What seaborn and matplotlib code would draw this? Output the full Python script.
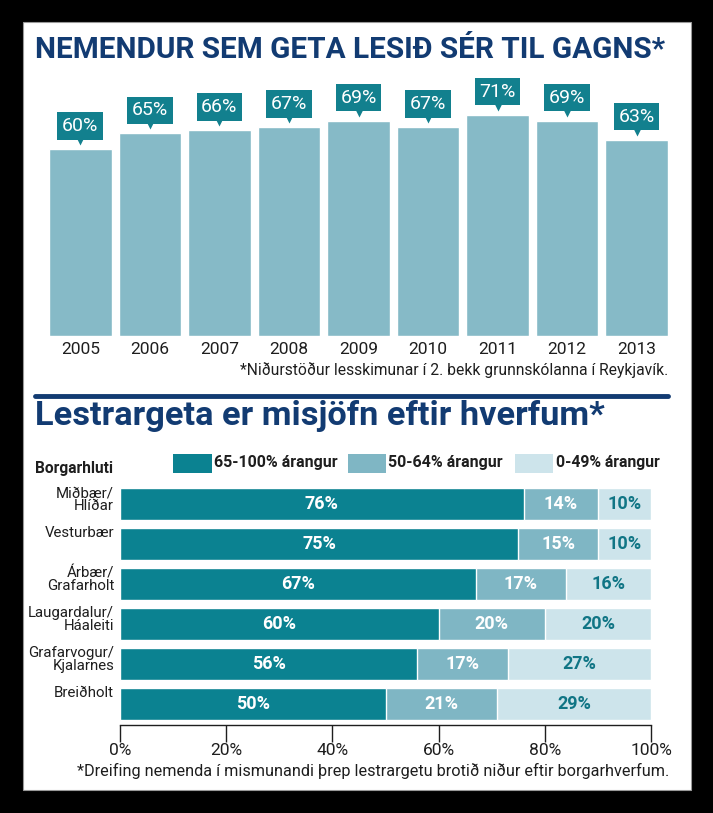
import numpy as np
import pandas as pd
import matplotlib
matplotlib.use('Agg')
import matplotlib.pyplot as plt
import seaborn as sns
from matplotlib.patches import Rectangle
from matplotlib.lines import Line2D

# top chart: share of pupils that read well, per year
years = ['2005', '2006', '2007', '2008', '2009', '2010', '2011', '2012', '2013']
share = [60, 65, 66, 67, 69, 67, 71, 69, 63]

# bottom chart: distribution per district
districts = ['Miðbær/\nHlíðar', 'Vesturbær', 'Árbær/\nGrafarholt', 'Laugardalur/\nHáaleiti',
             'Grafarvogur/\nKjalarnes', 'Breiðholt']
high = [76, 75, 67, 60, 56, 50]
mid = [14, 15, 17, 20, 17, 21]
low = [10, 10, 16, 20, 27, 29]
bands = ['65-100% árangur', '50-64% árangur', '0-49% árangur']
pct_ticks = [0, 20, 40, 60, 80, 100]

navy = '#123b72'
dark = '#0b8291'
medium = '#7fb6c4'
light = '#cde4eb'
topbar = '#86bac7'
boxcol = '#12808e'
txt = '#1e1e1e'

sns.set_theme(style='white')
plt.rcParams['font.family'] = ['Roboto', 'DejaVu Sans']

W, H = 713, 813
fig = plt.figure(figsize=(W / 100, H / 100), dpi=100)
fig.patch.set_facecolor('black')


def fx(px):
    return px / W


def fy(py):
    return 1 - py / H


def fit(t, width_px):
    r = fig.canvas.get_renderer()
    w = t.get_window_extent(renderer=r).width
    t.set_fontsize(t.get_fontsize() * width_px / w)


# white panel
fig.add_artist(Rectangle((fx(23), fy(790)), fx(691) - fx(23), fy(22) - fy(790),
                         transform=fig.transFigure, facecolor='white', edgecolor='#999999',
                         lw=0.8, zorder=-10))

# ---- top chart ----
ax1 = fig.add_axes([fx(49), fy(336), fx(668) - fx(49), fy(71) - fy(336)])
sns.barplot(x=years, y=share, color=topbar, saturation=1, width=0.9, ax=ax1)
ax1.set_xlim(-0.45, 8.45)
ax1.set_ylim(0, 85)
ax1.set_facecolor('none')
for s in ax1.spines.values():
    s.set_visible(False)
ax1.set_yticks([])
ax1.set_xlabel('')
ax1.set_ylabel('')
ax1.tick_params(axis='x', length=0, pad=4, labelsize=12.5, labelcolor=txt)
for i, v in enumerate(share):
    ax1.text(i, v + 7.4, f'{v}%', ha='center', va='center', color='white', fontsize=14,
             bbox=dict(boxstyle='square,pad=0.24', fc=boxcol, ec='none'))
    ax1.plot(i, v + 2.9, marker='v', ms=7, color=boxcol, mec='none')

t = fig.text(fx(35), fy(50), 'NEMENDUR SEM GETA LESIÐ SÉR TIL GAGNS*', ha='left', va='center',
             color=navy, fontsize=22, fontweight='bold')
fit(t, 630)
t = fig.text(fx(668), fy(370), '*Niðurstöður lesskimunar í 2. bekk grunnskólanna í Reykjavík.',
             ha='right', va='center', color=txt, fontsize=12)
fit(t, 427)

fig.add_artist(Line2D([fx(35), fx(668)], [fy(396), fy(396)], lw=3.5, color=navy,
                      transform=fig.transFigure))

t = fig.text(fx(35), fy(416), 'Lestrargeta er misjöfn eftir hverfum*', ha='left', va='center',
             color=navy, fontsize=24, fontweight='bold')
fit(t, 570)

# ---- legend ----
t = fig.text(fx(35), fy(468), 'Borgarhluti', ha='left', va='center', color=txt, fontsize=12,
             fontweight='bold')
fit(t, 78)
leg = [(173, 212, 214, 124), (348, 386, 388, 115), (515, 553, 556, 104)]
for (x0, x1, xt, tw), lab, col in zip(leg, bands, [dark, medium, light]):
    fig.add_artist(Rectangle((fx(x0), fy(473)), fx(x1) - fx(x0), fy(454) - fy(473),
                             transform=fig.transFigure, facecolor=col, edgecolor='none'))
    t = fig.text(fx(xt), fy(463), lab, ha='left', va='center', color=txt, fontsize=12.5,
                 fontweight='bold')
    fit(t, tw)

# ---- bottom chart ----
ax2 = fig.add_axes([fx(120), fy(725), fx(651) - fx(120), fy(480) - fy(725)])
df = pd.DataFrame({'district': districts, 'high': high, 'mid': mid, 'low': low})
df['c_mid'] = df['high'] + df['mid']
df['c_low'] = df['c_mid'] + df['low']
sns.barplot(data=df, x='c_low', y='district', orient='h', color=light, saturation=1, width=0.8, ax=ax2)
sns.barplot(data=df, x='c_mid', y='district', orient='h', color=medium, saturation=1, width=0.8, ax=ax2)
sns.barplot(data=df, x='high', y='district', orient='h', color=dark, saturation=1, width=0.8, ax=ax2)
ax2.set_xlim(0, 100)
ax2.set_ylim(5.525, -0.6)
ax2.set_facecolor('none')
for k in ['top', 'right', 'left']:
    ax2.spines[k].set_visible(False)
ax2.spines['bottom'].set_color(txt)
ax2.spines['bottom'].set_linewidth(1)
ax2.set_xticks(pct_ticks)
ax2.set_xticklabels([f'{p}%' for p in pct_ticks])
ax2.tick_params(axis='x', direction='out', length=12, width=1, color=txt, labelsize=12.5,
                labelcolor=txt, pad=1, bottom=True)
ax2.set_yticks([])
ax2.set_xlabel('')
ax2.set_ylabel('')

labels = []
for i, row in df.iterrows():
    labels.append(ax2.text(-0.011, i - 0.45, row['district'], transform=ax2.get_yaxis_transform(),
                           ha='right', va='top', color=txt, fontsize=12, linespacing=0.9,
                           multialignment='right'))
    ax2.text(row['high'] / 2, i, f"{row['high']}%", ha='center', va='center', color='white',
             fontsize=13, fontweight='bold')
    ax2.text(row['high'] + row['mid'] / 2, i, f"{row['mid']}%", ha='center', va='center',
             color='white', fontsize=13, fontweight='bold')
    ax2.text(row['c_mid'] + row['low'] / 2, i, f"{row['low']}%", ha='center', va='center',
             color='#107585', fontsize=13, fontweight='bold')

# shrink district labels so the widest one fits left of the bars
r = fig.canvas.get_renderer()
widest = max(lb.get_window_extent(renderer=r).width for lb in labels)
for lb in labels:
    lb.set_fontsize(lb.get_fontsize() * 86 / widest)

t = fig.text(fx(669), fy(771),
             '*Dreifing nemenda í mismunandi þrep lestrargetu brotið niður eftir borgarhverfum.',
             ha='right', va='center', color=txt, fontsize=12.5)
fit(t, 591)

fig.savefig('out.png', dpi=100, facecolor=fig.get_facecolor())
